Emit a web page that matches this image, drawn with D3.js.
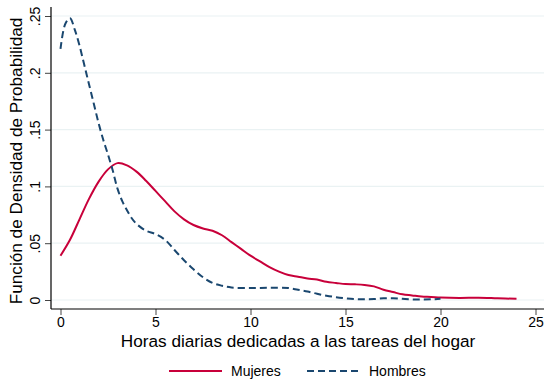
<!DOCTYPE html>
<html>
<head>
<meta charset="utf-8">
<script src="https://cdn.jsdelivr.net/npm/d3@7"></script>
<style>
  body { margin: 0; background: #fff; }
  text { font-family: "Liberation Sans", Arial, sans-serif; fill: #000; }
</style>
</head>
<body>
<div id="chart"></div>
<script>
// Densidad estimada - Mujeres (horas, densidad)
const horasMujeres = [0, 0.5, 1, 1.5, 2, 2.5, 3, 3.5, 4, 4.5, 5, 5.5, 6, 6.5, 7, 7.5, 8, 8.5, 9, 9.5, 10, 10.5, 11, 11.5, 12, 12.5, 13, 13.5, 14, 14.5, 15, 15.5, 16, 16.5, 17, 17.5, 18, 18.5, 19, 19.5, 20, 21, 22, 23, 24];
const densMujeres = [0.039, 0.053, 0.071, 0.089, 0.104, 0.115, 0.1205, 0.1185, 0.113, 0.105, 0.096, 0.087, 0.078, 0.071, 0.066, 0.063, 0.061, 0.057, 0.051, 0.045, 0.039, 0.034, 0.029, 0.025, 0.022, 0.0205, 0.019, 0.018, 0.016, 0.015, 0.014, 0.0138, 0.0133, 0.012, 0.009, 0.007, 0.005, 0.004, 0.003, 0.0027, 0.0022, 0.0018, 0.002, 0.0015, 0.001];

// Densidad estimada - Hombres
const horasHombres = [0, 0.25, 0.5, 0.75, 1, 1.25, 1.5, 1.75, 2, 2.25, 2.5, 2.75, 3, 3.25, 3.5, 3.75, 4, 4.5, 5, 5.5, 6, 6.5, 7, 7.5, 8, 8.5, 9, 10, 11, 12, 12.5, 13, 13.5, 14, 14.5, 15, 15.5, 16, 16.5, 17, 17.5, 18, 18.5, 19, 19.5, 20];
const densHombres = [0.221, 0.243, 0.248, 0.238, 0.224, 0.207, 0.190, 0.173, 0.156, 0.141, 0.128, 0.114, 0.098, 0.087, 0.079, 0.072, 0.067, 0.061, 0.058, 0.053, 0.044, 0.035, 0.027, 0.020, 0.015, 0.0125, 0.011, 0.0105, 0.0108, 0.0105, 0.009, 0.0075, 0.0055, 0.0038, 0.0025, 0.0015, 0.0008, 0.0006, 0.0008, 0.0015, 0.0016, 0.001, 0.0005, 0.0004, 0.0006, 0.001];

const xTicks = [0, 5, 10, 15, 20, 25];
const yTicks = [0, 0.05, 0.1, 0.15, 0.2, 0.25];
const yTickLabels = ["0", ".05", ".1", ".15", ".2", ".25"];

const width = 544, height = 382;
const colMujeres = "#c8003a";
const colHombres = "#1a476f";

const svg = d3.select("#chart").append("svg")
  .attr("width", width)
  .attr("height", height);

// escalas
const x = d3.scaleLinear().domain([0, 25]).range([60.5, 535.5]);
const y = d3.scaleLinear().domain([0, 0.25]).range([300, 16]);

const axisLeftX = 51, axisBottomY = 309, plotTop = 7, plotRight = 544;

// líneas de cuadrícula
svg.append("g").selectAll("line")
  .data(yTicks)
  .enter().append("line")
  .attr("x1", axisLeftX).attr("x2", plotRight)
  .attr("y1", d => y(d)).attr("y2", d => y(d))
  .attr("stroke", "#eaf2f3")
  .attr("stroke-width", 1.2);

// eje Y
const yAxis = d3.axisLeft(y).tickValues(yTicks).tickSize(6)
  .tickFormat((d, i) => yTickLabels[i]);
const gy = svg.append("g")
  .attr("transform", `translate(${axisLeftX},0)`)
  .call(yAxis);
gy.select(".domain").remove();
gy.selectAll(".tick line").attr("stroke", "#444");
gy.selectAll(".tick text")
  .attr("x", 0).attr("y", 0).attr("dy", null)
  .attr("transform", "translate(-11,0) rotate(-90)")
  .attr("text-anchor", "middle")
  .style("font-size", "14px")
  .style("font-family", "Liberation Sans, Arial, sans-serif");
svg.append("line")
  .attr("x1", axisLeftX).attr("x2", axisLeftX)
  .attr("y1", plotTop).attr("y2", axisBottomY)
  .attr("stroke", "#000").attr("stroke-width", 1.2);

// eje X
const xAxis = d3.axisBottom(x).tickValues(xTicks).tickSize(6).tickFormat(d3.format("d"));
const gx = svg.append("g")
  .attr("transform", `translate(0,${axisBottomY})`)
  .call(xAxis);
gx.select(".domain").remove();
gx.selectAll(".tick line").attr("stroke", "#444");
gx.selectAll(".tick text")
  .attr("y", 8)
  .style("font-size", "14px")
  .style("font-family", "Liberation Sans, Arial, sans-serif");
svg.append("line")
  .attr("x1", axisLeftX).attr("x2", plotRight)
  .attr("y1", axisBottomY).attr("y2", axisBottomY)
  .attr("stroke", "#000").attr("stroke-width", 1.2);

// títulos
svg.append("text")
  .attr("x", (x(0) + x(25)) / 2)
  .attr("y", 347)
  .attr("text-anchor", "middle")
  .style("font-size", "17.2px")
  .text("Horas diarias dedicadas a las tareas del hogar");

svg.append("text")
  .attr("transform", `translate(22,${(plotTop + axisBottomY) / 2 + 3}) rotate(-90)`)
  .attr("text-anchor", "middle")
  .style("font-size", "17.2px")
  .text("Función de Densidad de Probabilidad");

// curvas
const line = d3.line()
  .x(d => x(d[0]))
  .y(d => y(d[1]))
  .curve(d3.curveCatmullRom.alpha(0.5));

svg.append("path")
  .datum(horasMujeres.map((h, i) => [h, densMujeres[i]]))
  .attr("d", line)
  .attr("fill", "none")
  .attr("stroke", colMujeres)
  .attr("stroke-width", 2);

svg.append("path")
  .datum(horasHombres.map((h, i) => [h, densHombres[i]]))
  .attr("d", line)
  .attr("fill", "none")
  .attr("stroke", colHombres)
  .attr("stroke-width", 2)
  .attr("stroke-dasharray", "7,4");

// leyenda
const legendData = [
  { label: "Mujeres", color: colMujeres, dash: null, x0: 169 },
  { label: "Hombres", color: colHombres, dash: "7,4", x0: 307 }
];
const legend = svg.append("g");
legend.selectAll("line")
  .data(legendData)
  .enter().append("line")
  .attr("x1", d => d.x0).attr("x2", d => d.x0 + 53)
  .attr("y1", 371).attr("y2", 371)
  .attr("stroke", d => d.color)
  .attr("stroke-width", 2)
  .attr("stroke-dasharray", d => d.dash);
legend.selectAll("text")
  .data(legendData)
  .enter().append("text")
  .attr("x", d => d.x0 + 62)
  .attr("y", 376)
  .style("font-size", "14px")
  .text(d => d.label);
</script>
</body>
</html>
